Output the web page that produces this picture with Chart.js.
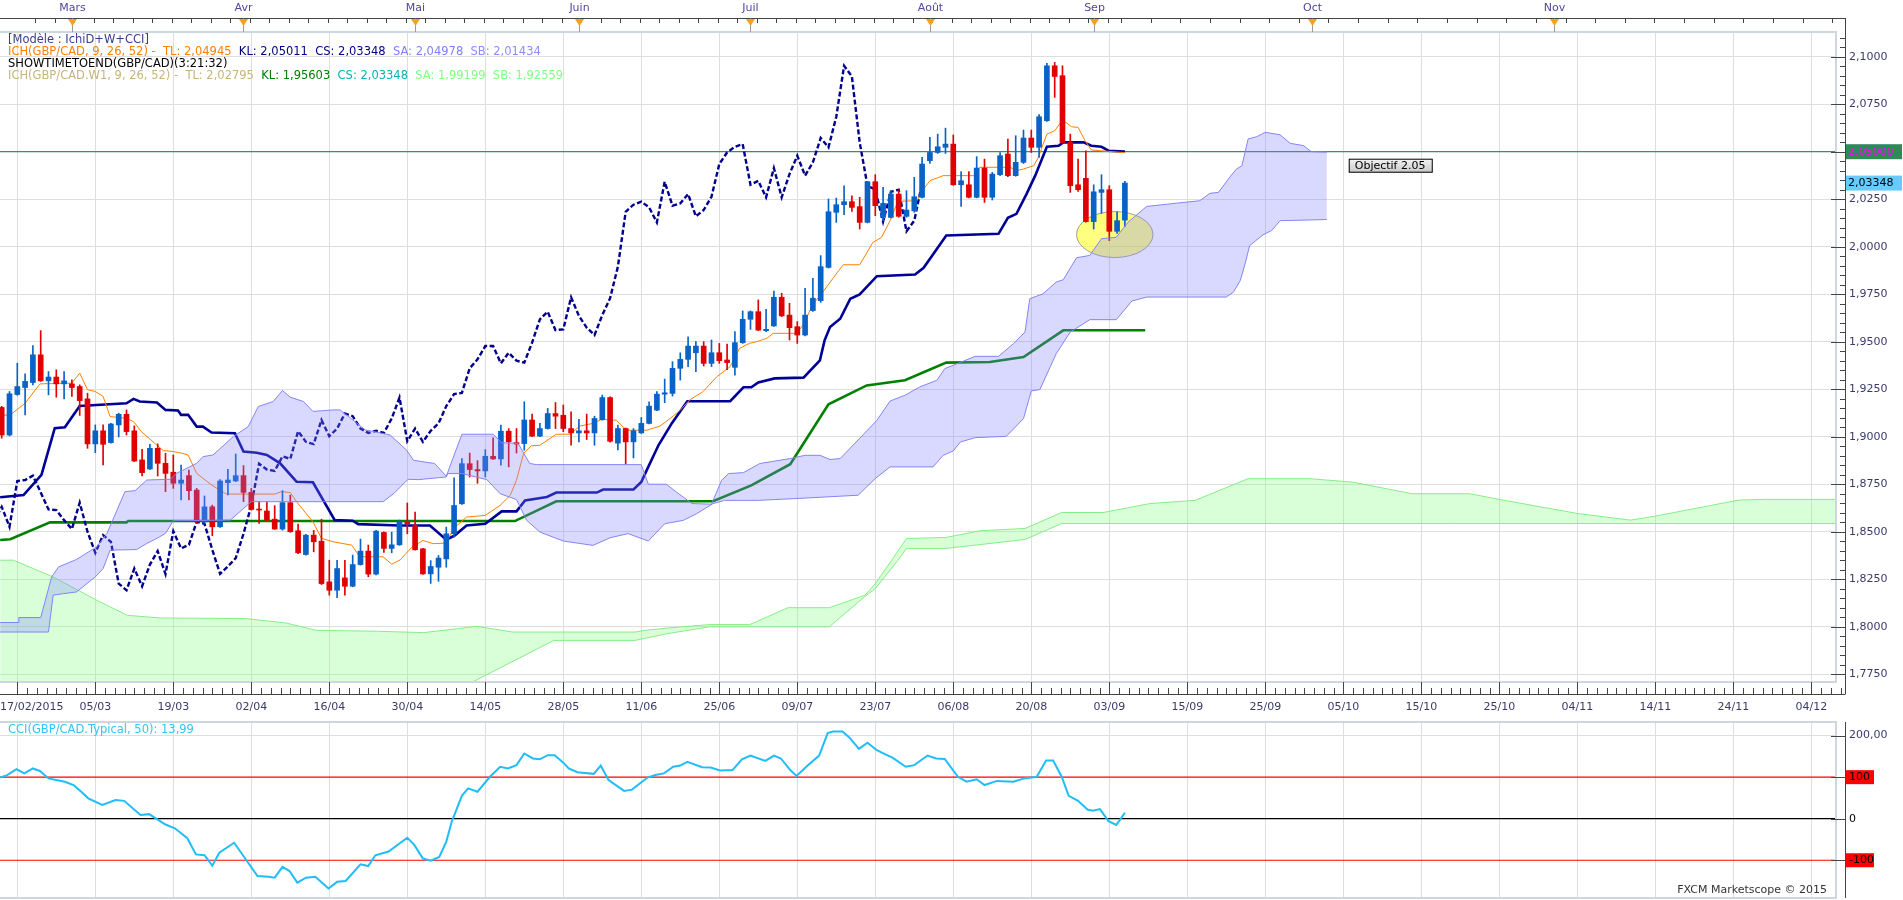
<!DOCTYPE html>
<html>
<head>
<meta charset="utf-8">
<title>GBP/CAD Ichimoku</title>
<script src="https://cdn.jsdelivr.net/npm/chart.js@4.4.1/dist/chart.umd.min.js"></script>
<style>
html, body { margin: 0; padding: 0; background: #fff; }
#wrap { position: relative; width: 1903px; height: 900px; overflow: hidden; }
#main { position: absolute; left: 0; top: 0; }
#cci { position: absolute; left: 0; top: 718px; }
</style>
</head>
<body>
<div id="wrap">
  <canvas id="main" width="1903" height="718"></canvas>
  <canvas id="cci" width="1903" height="182"></canvas>
</div>
<script>
// ---- data (bar index 0 = 17/02/2015 grid line) ----
const firstBar = -2;
const open = [
  1.9154,1.9009,1.9222,1.9259,1.9285,1.9431,1.9294,1.9314,1.9278,1.9278,
  1.9264,1.9199,1.8962,1.9031,1.8969,1.9062,1.9118,1.9031,1.8878,1.8830,
  1.8939,1.8860,1.8813,1.8755,1.8795,1.8719,1.8552,1.8631,1.8526,1.8758,
  1.8767,1.8795,1.8707,1.8619,1.8609,1.8566,1.8514,1.8653,1.8505,1.8380,
  1.8482,1.8450,1.8236,1.8192,1.8257,1.8213,1.8327,1.8398,1.8277,1.8496,
  1.8412,1.8431,1.8551,1.8533,1.8410,1.8278,1.8313,1.8357,1.8489,1.8647,
  1.8858,1.8827,1.8820,1.8897,1.8883,1.9029,1.8969,1.8964,1.9088,1.9003,
  1.9043,1.9122,1.9113,1.9043,1.9020,1.9031,1.9020,1.9090,1.9206,1.8966,
  1.9043,1.8973,1.9020,1.9070,1.9140,1.9224,1.9228,1.9360,1.9407,1.9442,
  1.9477,1.9386,1.9442,1.9404,1.9365,1.9495,1.9618,1.9658,1.9558,1.9583,
  1.9734,1.9640,1.9579,1.9535,1.9664,1.9716,1.9891,2.0181,2.0221,2.0237,
  2.0211,2.0128,2.0342,2.0154,2.0154,2.0277,2.0160,2.0189,2.0260,2.0453,
  2.0496,2.0523,2.0540,2.0326,2.0326,2.0260,2.0414,2.0260,2.0379,2.0488,
  2.0374,2.0444,2.0572,2.0523,2.0663,2.0952,2.0900,2.0549,2.0326,2.0360,
  2.0132,2.0286,2.0300,2.0081,2.0140
];
const high = [
  1.9160,1.9238,1.9387,1.9331,1.9479,1.9558,1.9343,1.9352,1.9343,1.9300,
  1.9273,1.9229,1.9062,1.9062,1.9071,1.9124,1.9141,1.9057,1.8934,1.8960,
  1.8962,1.8913,1.8904,1.8851,1.8825,1.8728,1.8688,1.8640,1.8775,1.8828,
  1.8909,1.8848,1.8728,1.8658,1.8658,1.8637,1.8716,1.8693,1.8540,1.8486,
  1.8507,1.8566,1.8350,1.8350,1.8350,1.8377,1.8461,1.8430,1.8507,1.8500,
  1.8498,1.8561,1.8651,1.8603,1.8413,1.8348,1.8375,1.8524,1.8783,1.8885,
  1.8914,1.8874,1.8932,1.8994,1.9061,1.9043,1.9043,1.9184,1.9119,1.9070,
  1.9149,1.9180,1.9167,1.9131,1.9092,1.9119,1.9108,1.9219,1.9210,1.9061,
  1.9046,1.9043,1.9101,1.9184,1.9237,1.9303,1.9395,1.9442,1.9526,1.9500,
  1.9500,1.9509,1.9491,1.9488,1.9553,1.9662,1.9662,1.9720,1.9671,1.9767,
  1.9755,1.9702,1.9606,1.9781,1.9834,1.9953,2.0251,2.0256,2.0321,2.0268,
  2.0260,2.0344,2.0379,2.0312,2.0295,2.0298,2.0295,2.0365,2.0470,2.0575,
  2.0593,2.0624,2.0588,2.0395,2.0395,2.0474,2.0461,2.0391,2.0496,2.0567,
  2.0584,2.0614,2.0614,2.0695,2.0965,2.0970,2.0952,2.0593,2.0461,2.0505,
  2.0326,2.0379,2.0321,2.0184,2.0344
];
const low = [
  1.8992,1.9004,1.9218,1.9115,1.9273,1.9291,1.9220,1.9208,1.9199,1.9212,
  1.9112,1.8939,1.8916,1.8851,1.8966,1.8999,1.9009,1.8869,1.8793,1.8828,
  1.8793,1.8711,1.8728,1.8667,1.8667,1.8544,1.8544,1.8479,1.8523,1.8693,
  1.8764,1.8658,1.8614,1.8544,1.8558,1.8512,1.8508,1.8497,1.8385,1.8377,
  1.8394,1.8222,1.8166,1.8153,1.8166,1.8210,1.8324,1.8263,1.8272,1.8391,
  1.8389,1.8428,1.8489,1.8403,1.8275,1.8228,1.8239,1.8313,1.8471,1.8644,
  1.8788,1.8755,1.8788,1.8880,1.8850,1.8841,1.8914,1.8929,1.9000,1.9000,
  1.9040,1.9043,1.9026,1.8955,1.8973,1.8985,1.8955,1.9087,1.8971,1.8931,
  1.8855,1.8888,1.9017,1.9067,1.9137,1.9179,1.9214,1.9298,1.9369,1.9342,
  1.9372,1.9369,1.9386,1.9353,1.9324,1.9491,1.9565,1.9558,1.9553,1.9580,
  1.9632,1.9509,1.9491,1.9530,1.9659,1.9707,1.9888,2.0128,2.0168,2.0186,
  2.0093,2.0125,2.0163,2.0137,2.0151,2.0155,2.0155,2.0181,2.0257,2.0438,
  2.0491,2.0491,2.0323,2.0212,2.0257,2.0257,2.0233,2.0246,2.0374,2.0368,
  2.0371,2.0438,2.0496,2.0470,2.0660,2.0786,2.0546,2.0286,2.0291,2.0129,
  2.0093,2.0175,2.0032,2.0070,2.0105
];
const close = [
  1.9009,1.9226,1.9264,1.9291,1.9431,1.9294,1.9314,1.9278,1.9294,1.9259,
  1.9190,1.8962,1.9031,1.8960,1.9067,1.9118,1.9027,1.8872,1.8811,1.8939,
  1.8860,1.8807,1.8755,1.8772,1.8716,1.8552,1.8631,1.8526,1.8767,1.8772,
  1.8795,1.8707,1.8617,1.8614,1.8561,1.8514,1.8653,1.8500,1.8389,1.8482,
  1.8447,1.8227,1.8192,1.8306,1.8213,1.8327,1.8398,1.8277,1.8503,1.8412,
  1.8431,1.8552,1.8542,1.8405,1.8278,1.8317,1.8361,1.8489,1.8638,1.8858,
  1.8827,1.8820,1.8897,1.8883,1.9029,1.8973,1.8961,1.9088,1.9003,1.9043,
  1.9122,1.9108,1.9043,1.9020,1.9031,1.9020,1.9096,1.9206,1.8976,1.9043,
  1.8973,1.9031,1.9070,1.9161,1.9224,1.9231,1.9360,1.9407,1.9477,1.9477,
  1.9386,1.9442,1.9400,1.9390,1.9495,1.9618,1.9658,1.9561,1.9565,1.9734,
  1.9636,1.9574,1.9535,1.9640,1.9729,1.9895,2.0184,2.0221,2.0237,2.0207,
  2.0128,2.0342,2.0216,2.0228,2.0277,2.0160,2.0193,2.0263,2.0435,2.0496,
  2.0526,2.0540,2.0326,2.0347,2.0260,2.0414,2.0260,2.0382,2.0479,2.0374,
  2.0444,2.0572,2.0523,2.0684,2.0952,2.0896,2.0549,2.0321,2.0300,2.0132,
  2.0289,2.0300,2.0081,2.0137,2.0335
];
const chikouShift = 26;

// [bar, price] break points of the indicator lines
const tenkanPts = [[-2.2,1.9111],[-0.9,1.9115],[1,1.9176],[2.9,1.9278],[7,1.9282],[8,1.9335],[9,1.9247],[10,1.9238],[11,1.9212],[11.9,1.9106],[14,1.9097],[14.9,1.9080],[15.9,1.9027],[17.6,1.8966],[18.7,1.8927],[20,1.8922],[21.1,1.8913],[21.9,1.8904],[23,1.8807],[24.9,1.8746],[26.8,1.8698],[33,1.8698],[33.9,1.8711],[35,1.8706],[35.8,1.8658],[37.9,1.8552],[39,1.8465],[40.5,1.8447],[42.9,1.8429],[43.9,1.8368],[46.9,1.8368],[48,1.8329],[49.1,1.8352],[50.5,1.8415],[52,1.8454],[53.3,1.8437],[55,1.8440],[55.9,1.8516],[57.6,1.8577],[60,1.8586],[61.9,1.8639],[63.2,1.8692],[64,1.8771],[64.9,1.8911],[65.9,1.8952],[67,1.8955],[69.1,1.9013],[70.9,1.9013],[72.1,1.9056],[73.8,1.9070],[74.9,1.9091],[76.8,1.9087],[78.1,1.9034],[80.7,1.9034],[82.4,1.9056],[83.7,1.9096],[85,1.9140],[86.2,1.9193],[87.9,1.9237],[89.7,1.9316],[91.4,1.9369],[92.6,1.9465],[93.9,1.9492],[94.8,1.9500],[96.1,1.9518],[96.9,1.9544],[99.9,1.9544],[100.8,1.9590],[102,1.9698],[103.1,1.9751],[105.3,1.9874],[105.9,1.9905],[108,1.9905],[109.7,2.0023],[110.8,2.0049],[111.9,2.0137],[112.9,2.0239],[115.3,2.0242],[116.2,2.0303],[117,2.0347],[118.7,2.0374],[122.6,2.0374],[123.4,2.0418],[127.3,2.0418],[128.1,2.0400],[129,2.0409],[130.3,2.0426],[130.9,2.0470],[132,2.0593],[133,2.0610],[134,2.0667],[135.2,2.0631],[136,2.0628],[136.9,2.0558],[137.7,2.0509],[142,2.0495]];
const kijunPts = [[-2.2,1.8681],[0.8,1.8693],[3.1,1.8799],[4.8,1.9045],[6.1,1.9050],[8,1.9162],[14,1.9176],[14.9,1.9199],[15.7,1.9185],[17.9,1.9180],[19,1.9141],[20.6,1.9138],[21,1.9115],[21.9,1.9115],[23,1.9053],[23.8,1.9053],[24.9,1.9022],[27.9,1.9018],[29,1.8922],[30.7,1.8916],[32,1.8904],[33.7,1.8860],[35.8,1.8763],[37.9,1.8760],[40.7,1.8561],[43,1.8558],[43.7,1.8540],[49,1.8533],[52.9,1.8533],[55,1.8458],[56.1,1.8481],[57.6,1.8533],[60,1.8542],[62.1,1.8607],[64,1.8607],[65.1,1.8665],[67.9,1.8683],[69.1,1.8706],[74.3,1.8706],[75.1,1.8722],[79,1.8722],[80,1.8762],[80.7,1.8824],[82.2,1.8955],[83.9,1.9070],[85.9,1.9187],[91.4,1.9187],[93.1,1.9260],[94.1,1.9260],[95,1.9286],[97.1,1.9307],[100.8,1.9311],[102.9,1.9402],[103.5,1.9507],[104.2,1.9577],[105.5,1.9621],[106.8,1.9726],[108,1.9749],[110.2,1.9845],[115.1,1.9854],[116.2,1.9889],[119.1,2.0059],[125.8,2.0068],[127,2.0152],[128.1,2.0173],[129.4,2.0278],[130.5,2.0374],[132,2.0526],[133.5,2.0531],[134.1,2.0549],[136.7,2.0549],[137.7,2.0531],[139,2.0526],[139.9,2.0505],[142,2.0501]];
const cloudUpPts = [[-2.2,1.8022],[0.1,1.8022],[0.2,1.8048],[3,1.8048],[4.4,1.8262],[5.3,1.8315],[7.6,1.8354],[10.2,1.8421],[11.5,1.8491],[13.8,1.8711],[15.1,1.8716],[16.6,1.8772],[19.6,1.8776],[20.4,1.8807],[23,1.8860],[23.8,1.8895],[25.1,1.8904],[27.7,1.9001],[29.6,1.9053],[30.9,1.9159],[32.8,1.9185],[34,1.9243],[35,1.9208],[36.7,1.9185],[37.9,1.9133],[40.5,1.9141],[41.4,1.9141],[42.2,1.9115],[44.6,1.9036],[47.8,1.9009],[49.9,1.8930],[50.8,1.8876],[53.5,1.8859],[55,1.8792],[57,1.9013],[61,1.9013],[62.1,1.8968],[64.2,1.8965],[65.7,1.8859],[66.6,1.8853],[80,1.8853],[80.9,1.8750],[83.2,1.8750],[84.5,1.8709],[86.5,1.8648],[89,1.8645],[90.3,1.8771],[91.2,1.8806],[93.1,1.8811],[95.2,1.8859],[99.1,1.8885],[101,1.8902],[102.9,1.8902],[104.2,1.8880],[105.5,1.8885],[108.5,1.9013],[110.2,1.9086],[111.9,1.9188],[113.8,1.9218],[115.7,1.9262],[117.9,1.9297],[118.9,1.9358],[120,1.9376],[122.8,1.9423],[125.8,1.9423],[127.7,1.9489],[129.2,1.9551],[129.8,1.9726],[131.5,1.9752],[133.2,1.9814],[134.1,1.9826],[135.8,1.9942],[137.5,1.9954],[139,2.0042],[140.9,2.0050],[142.4,2.0129],[144.8,2.0212],[148.6,2.0229],[151.6,2.0242],[152.9,2.0281],[154,2.0286],[155.5,2.0369],[156.3,2.0409],[157,2.0426],[157.4,2.0496],[157.8,2.0567],[158.9,2.0579],[160,2.0602],[161.9,2.0589],[163.2,2.0544],[164.9,2.0532],[165.9,2.0500],[167.9,2.0498]];
const cloudLoPts = [[-2.2,1.7972],[4,1.7972],[4.6,1.8166],[5.9,1.8174],[7.6,1.8183],[10,1.8262],[11,1.8306],[11.9,1.8403],[15.3,1.8406],[16.6,1.8438],[17.9,1.8465],[19,1.8491],[20,1.8558],[27.3,1.8561],[30,1.8658],[46.9,1.8658],[48.3,1.8702],[50.1,1.8776],[51.4,1.8774],[55,1.8788],[55.2,1.8806],[57,1.8806],[60.2,1.8774],[61.9,1.8700],[64,1.8669],[65.3,1.8560],[67,1.8498],[70,1.8451],[73.8,1.8428],[76,1.8468],[78.3,1.8490],[80.9,1.8451],[83,1.8542],[85.4,1.8560],[87.1,1.8595],[89.2,1.8648],[90.7,1.8665],[95,1.8665],[100.1,1.8675],[107.8,1.8692],[110,1.8780],[111.9,1.8841],[117.4,1.8841],[118.7,1.8902],[120,1.8925],[120.9,1.8972],[122.8,1.8995],[126.8,1.9002],[129,1.9095],[130,1.9241],[131.1,1.9248],[133.2,1.9437],[135,1.9551],[137.5,1.9616],[140.9,1.9616],[142.9,1.9714],[144.8,1.9735],[155,1.9735],[155.9,1.9760],[156.8,1.9822],[157.4,1.9909],[158,2.0006],[159.7,2.0062],[160.8,2.0085],[161.9,2.0137],[167.9,2.0143]];
const weeklyKijunPts = [[-2.2,1.8456],[-0.9,1.8460],[4.2,1.8549],[14,1.8549],[14.2,1.8556],[63.8,1.8556],[69.1,1.8660],[89.2,1.8660],[94.1,1.8744],[99.1,1.8855],[104,1.9171],[108.9,1.9270],[113.8,1.9297],[119.1,1.9390],[124.7,1.9393],[129,1.9419],[134.1,1.9560],[144.6,1.9560]];
const weeklyUpPts = [[-2.2,1.8350],[-0.5,1.8350],[4.6,1.8262],[10.2,1.8139],[14.1,1.8060],[18.3,1.8046],[29.2,1.8043],[34.4,1.8020],[38.3,1.7981],[46.2,1.7976],[52.1,1.7969],[54.7,1.7981],[58.9,1.8002],[63.5,1.7972],[79.2,1.7972],[80.5,1.7981],[83.4,1.7993],[88.7,1.8011],[93.9,1.8011],[98.8,1.8100],[104.1,1.8100],[108.7,1.8166],[110,1.8227],[112.1,1.8350],[114,1.8464],[119.1,1.8470],[123.4,1.8505],[129.2,1.8517],[133.9,1.8601],[139.2,1.8601],[145.2,1.8648],[151,1.8665],[157.8,1.8779],[165.7,1.8779],[171.2,1.8761],[178.8,1.8700],[186.2,1.8700],[190,1.8670],[200,1.8596],[206.8,1.8561],[210,1.8582],[220,1.8661],[221,1.8667],[224.3,1.8670],[233.5,1.8670]];
const weeklyLoPts = [[-2.2,1.7500],[48.4,1.7500],[68.8,1.7928],[79.2,1.7928],[83.4,1.7964],[88.7,1.7999],[104.1,1.7999],[108.7,1.8160],[110,1.8200],[112.9,1.8350],[114,1.8412],[119.1,1.8412],[129.2,1.8459],[133.9,1.8543],[233.5,1.8543]];
const cciPts = [[-2.2,99],[-1.3,105],[-0.1,119],[0.9,109],[2,121],[2.9,115],[4,97],[6.1,89],[7.2,81],[8.2,65],[9.1,49],[10.9,33],[12.6,45],[13.7,43],[15.8,9],[16.9,11],[19,-14],[20.2,-23],[21.8,-47],[22.9,-86],[24,-88],[25,-113],[25.9,-82],[27.8,-58],[30.8,-138],[32.2,-140],[33,-142],[34,-116],[34.9,-126],[35.9,-154],[37,-142],[38.2,-140],[39.9,-168],[41,-152],[42.1,-150],[44,-110],[45,-114],[45.9,-88],[47.6,-79],[50,-46],[50.9,-63],[52,-96],[53,-101],[54.1,-92],[55,-55],[55.7,-7],[57,55],[57.8,73],[59,65],[60.6,101],[61.9,125],[62.9,121],[64,129],[65,157],[66.1,145],[67,143],[68,153],[68.9,153],[70,135],[70.7,121],[71.8,112],[73.9,108],[74.8,128],[75.8,93],[77.8,67],[78.8,70],[80.8,99],[81.8,105],[82.9,109],[84.1,125],[85,128],[85.9,137],[87.8,124],[88.9,123],[90.1,116],[91.7,117],[92.9,143],[94,152],[95.9,139],[97,152],[97.9,145],[99.1,117],[99.9,103],[101.4,129],[102.8,152],[103.9,206],[104.6,210],[105.8,210],[106.7,195],[107.9,168],[109,183],[110.2,165],[111.3,155],[112.2,147],[113.9,125],[115,129],[116.7,152],[117.8,145],[118.9,144],[120.6,101],[121.7,89],[123,95],[124,81],[125.6,91],[127.7,89],[129.1,97],[130.7,101],[131.9,140],[132.8,140],[133.9,101],[134.8,55],[136,43],[137.2,22],[137.9,19],[138.8,23],[139.9,-6],[140.9,-15],[142,14]];
const cciLevels = [100, 0, -100];
const objectif = 2.05;
const lastClose = 2.03348;

// axis labels
const dateTicks = [0,10,20,30,40,50,60,70,80,90,100,110,120,130,140,150,160,170,180,190,200,210,220,230];
const dateLabels = ['17/02/2015','05/03','19/03','02/04','16/04','30/04','14/05','28/05','11/06','25/06','09/07','23/07','06/08','20/08','03/09','15/09','25/09','05/10','15/10','25/10','04/11','14/11','24/11','04/12'];
const monthPos = [7, 29, 51, 72, 94, 117, 138, 166, 197];
const monthNames = ['Mars','Avr','Mai','Juin','Juil','Août','Sep','Oct','Nov'];
const priceTicks = [2.1, 2.075, 2.05, 2.025, 2.0, 1.975, 1.95, 1.925, 1.9, 1.875, 1.85, 1.825, 1.8, 1.775];
const cciTicks = [200];

// ---- view ----
const xMin = -2.218, xMax = 233.17;
const F = '11px "DejaVu Sans"';
const FL = '11.5px "DejaVu Sans"';
const UP = '#0a62c6', DOWN = '#e00000';
const GRID = '#dedede';
const FRAME = '#cfd6df';
const LABEL = '#3a3a6a';
const zone = { x: 140.7, y: 2.0064, rx: 4.9, ry: 0.0121 };

const bars = open.map((_, k) => firstBar + k);
const pts = a => a.map(([x, y]) => ({ x, y }));
const candleColor = ctx => close[ctx.dataIndex] >= open[ctx.dataIndex] ? UP : DOWN;
const fmtPrice = p => p.toFixed(4).replace('.', ',');

function text(ctx, s, x, y, color, align, font) {
  ctx.font = font || F;
  ctx.fillStyle = color;
  ctx.textAlign = align || 'left';
  ctx.textBaseline = 'middle';
  ctx.fillText(s, x, y);
}
function hline(ctx, x1, x2, y, color, w) {
  ctx.strokeStyle = color; ctx.lineWidth = w || 1;
  ctx.beginPath(); ctx.moveTo(x1, y); ctx.lineTo(x2, y); ctx.stroke();
}
function vline(ctx, x, y1, y2, color, w) {
  ctx.strokeStyle = color; ctx.lineWidth = w || 1;
  ctx.beginPath(); ctx.moveTo(x, y1); ctx.lineTo(x, y2); ctx.stroke();
}

const xScale = {
  type: 'linear', min: xMin, max: xMax, offset: false,
  afterBuildTicks: s => { s.ticks = dateTicks.map(v => ({ value: v })); },
  afterFit: s => { s.height = 0; },
  ticks: { display: false },
  grid: { color: GRID, drawTicks: false, offset: false },
  border: { display: false }
};

const legendLines = [
  [['[Modèle : IchiD+W+CCI]', '#3c3c8c']],
  [['ICH(GBP/CAD, 9, 26, 52) -  TL: 2,04945', '#ff8000'], ['KL: 2,05011', '#000080'], ['CS: 2,03348', '#000080'], ['SA: 2,04978', '#8080ff'], ['SB: 2,01434', '#8c8cff']],
  [['SHOWTIMETOEND(GBP/CAD)(3:21:32)', '#000000']],
  [['ICH(GBP/CAD.W1, 9, 26, 52) -  TL: 2,02795', '#c8b478'], ['KL: 1,95603', '#008000'], ['CS: 2,03348', '#00b4b4'], ['SA: 1,99199', '#80ff80'], ['SB: 1,92559', '#80ff80']]
];

const mainDeco = {
  id: 'mainDeco',
  beforeDatasetsDraw(chart) {
    const { ctx, scales: { x, y } } = chart;
    const cx = x.getPixelForValue(zone.x), cy = y.getPixelForValue(zone.y);
    const rx = x.getPixelForValue(zone.x + zone.rx) - cx;
    const ry = cy - y.getPixelForValue(zone.y + zone.ry);
    ctx.save();
    ctx.beginPath();
    ctx.ellipse(cx, cy, rx, ry, 0, 0, Math.PI * 2);
    ctx.fillStyle = 'rgba(255,255,0,0.5)';
    ctx.fill();
    ctx.strokeStyle = 'rgba(150,150,150,0.9)';
    ctx.lineWidth = 1;
    ctx.stroke();
    ctx.restore();
  },
  afterDraw(chart) {
    const { ctx, chartArea: a, scales: { x, y } } = chart;
    const axisX = 1845.5;
    ctx.save();

    // frame
    ctx.strokeStyle = FRAME; ctx.lineWidth = 2;
    ctx.beginPath();
    ctx.moveTo(a.left, a.top); ctx.lineTo(a.right, a.top); ctx.lineTo(a.right, a.bottom); ctx.lineTo(a.left, a.bottom);
    ctx.stroke();

    // top ruler with months
    hline(ctx, 0, axisX, 18.5, '#444');
    for (let v = 2.3; v < 140; v += 2.5) {
      const px = Math.round(x.getPixelForValue(v)) + 0.5;
      vline(ctx, px, 18.5, 23, '#444');
    }
    for (let v = 141.5; v < xMax; v += 3.8) {
      const px = Math.round(x.getPixelForValue(v)) + 0.5;
      vline(ctx, px, 18.5, 23, '#444');
    }
    monthPos.forEach((m, k) => {
      const px = Math.round(x.getPixelForValue(m)) + 0.5;
      vline(ctx, px, 18.5, a.top, '#999');
      ctx.fillStyle = '#f7a21b';
      ctx.beginPath(); ctx.moveTo(px - 4.5, 19); ctx.lineTo(px + 4.5, 19); ctx.lineTo(px, 26); ctx.closePath(); ctx.fill();
      text(ctx, monthNames[k], px, 8.5, '#55459a', 'center');
    });

    // legend lines
    legendLines.forEach((line, r) => {
      let px = 8;
      const py = 40 + r * 12;
      line.forEach(([s, c]) => {
        text(ctx, s, px, py, c, 'left', FL);
        ctx.font = FL;
        px += ctx.measureText(s + '  ').width;
      });
    });

    // right price ruler
    vline(ctx, axisX, 18, 694, '#444');
    for (let m = 1770; m <= 2115; m += 5) {
      const py = y.getPixelForValue(m / 1000);
      if (py < a.top || py > a.bottom) continue;
      const yy = Math.round(py) + 0.5;
      hline(ctx, m % 25 === 0 ? 1831 : 1840, axisX, yy, '#444');
    }
    priceTicks.forEach(p => text(ctx, fmtPrice(p), 1849, y.getPixelForValue(p), LABEL));

    // level boxes
    const yObj = y.getPixelForValue(objectif);
    ctx.fillStyle = '#2e8b57'; ctx.fillRect(1846, yObj - 7.5, 56, 15);
    text(ctx, objectif.toFixed(5).replace('.', ','), 1848, yObj, '#ff00ff');
    const yLast = y.getPixelForValue(lastClose);
    ctx.fillStyle = '#66ccff'; ctx.fillRect(1846, yLast - 7.5, 56, 15);
    text(ctx, lastClose.toFixed(5).replace('.', ','), 1848, yLast, '#000');

    // bottom date ruler
    hline(ctx, 0, axisX, 694.5, '#444');
    dateTicks.forEach(v => {
      const px = Math.round(x.getPixelForValue(v)) + 0.5;
      vline(ctx, px, a.bottom, 694.5, '#444');
      for (let s = 1; s < 8; s++) {
        const qx = Math.round(x.getPixelForValue(v + s * 1.25)) + 0.5;
        if (qx < axisX) vline(ctx, qx, 688, 694.5, '#444');
      }
    });
    ctx.font = F;
    dateTicks.forEach((v, k) => {
      const px = x.getPixelForValue(v);
      const w = ctx.measureText(dateLabels[k]).width;
      text(ctx, dateLabels[k], Math.max(px - w / 2, 0), 707, LABEL, 'left');
    });

    // "Objectif" tag
    const tx = x.getPixelForValue(170.7), ty = yObj + 7;
    const g = ctx.createLinearGradient(0, ty, 0, ty + 14);
    g.addColorStop(0, '#f4f4f4'); g.addColorStop(1, '#c8c8c8');
    ctx.fillStyle = g; ctx.fillRect(tx, ty, 84, 14);
    ctx.strokeStyle = '#000'; ctx.lineWidth = 1; ctx.strokeRect(tx + 0.5, ty + 0.5, 83, 13);
    text(ctx, 'Objectif 2.05', tx + 6, ty + 7.5, '#000');

    ctx.restore();
  }
};

new Chart(document.getElementById('main'), {
  type: 'line',
  data: {
    datasets: [
      { label: 'W SA', data: pts(weeklyUpPts), borderColor: '#86ee86', borderWidth: 1, order: 10 },
      { label: 'W SB', data: pts(weeklyLoPts), borderColor: '#86ee86', borderWidth: 1, fill: '-1', backgroundColor: 'rgba(128,255,128,0.3)', order: 11 },
      { label: 'W KL', data: pts(weeklyKijunPts), borderColor: '#008000', borderWidth: 2.6, order: 9 },
      { label: 'Objectif', data: [{ x: xMin, y: objectif }, { x: xMax, y: objectif }], borderColor: '#3c8c64', borderWidth: 1.2, order: 8 },
      { label: 'CS', data: close.map((c, k) => ({ x: firstBar + k - chikouShift, y: c })), borderColor: '#00008c', borderWidth: 2.4, borderDash: [5, 2.5], order: 7 },
      { label: 'KL', data: pts(kijunPts), borderColor: '#000096', borderWidth: 2.6, order: 6 },
      { label: 'TL', data: pts(tenkanPts), borderColor: '#ff8000', borderWidth: 1, order: 5 },
      { type: 'bar', label: 'wick', data: bars.map((b, k) => ({ x: b, y: [low[k], high[k]] })), backgroundColor: candleColor, barThickness: 1, grouped: false, order: 4 },
      { type: 'bar', label: 'body', data: bars.map((b, k) => ({ x: b, y: [open[k], close[k]] })), backgroundColor: candleColor, barThickness: 5, minBarLength: 1, grouped: false, order: 3 },
      { label: 'SA', data: pts(cloudUpPts), borderColor: '#8484f4', borderWidth: 1, order: 1 },
      { label: 'SB', data: pts(cloudLoPts), borderColor: '#8484f4', borderWidth: 1, fill: '-1', backgroundColor: 'rgba(128,128,255,0.3)', order: 2 }
    ]
  },
  options: {
    responsive: false, animation: false, devicePixelRatio: 1, events: [],
    layout: { padding: { top: 32, left: 0, right: 67, bottom: 36 } },
    elements: { point: { radius: 0 }, line: { tension: 0 } },
    plugins: { legend: { display: false }, tooltip: { enabled: false } },
    scales: {
      x: xScale,
      y: {
        type: 'linear', position: 'right', min: 1.7709, max: 2.1130,
        afterBuildTicks: s => { s.ticks = priceTicks.map(v => ({ value: v })); },
        afterFit: s => { s.width = 0; },
        ticks: { display: false },
        grid: { color: GRID, drawTicks: false },
        border: { display: false }
      }
    }
  },
  plugins: [mainDeco]
});

const cciDeco = {
  id: 'cciDeco',
  afterDraw(chart) {
    const { ctx, chartArea: a, scales: { y } } = chart;
    const axisX = 1845.5;
    ctx.save();
    ctx.strokeStyle = FRAME; ctx.lineWidth = 2;
    ctx.beginPath();
    ctx.moveTo(a.left, a.top); ctx.lineTo(a.right, a.top); ctx.lineTo(a.right, a.bottom); ctx.lineTo(a.left, a.bottom);
    ctx.stroke();
    vline(ctx, axisX, a.top, a.bottom, '#444');
    [200, 100, 0, -100].forEach(v => hline(ctx, 1831, axisX, Math.round(y.getPixelForValue(v)) + 0.5, '#444'));
    text(ctx, '200,00', 1849, y.getPixelForValue(200), LABEL);
    [[100, '100'], [-100, '-100']].forEach(([v, s]) => {
      const py = y.getPixelForValue(v);
      ctx.fillStyle = '#ff0000'; ctx.fillRect(1846, py - 7, 28, 14);
      text(ctx, s, 1849, py, '#000');
    });
    text(ctx, '0', 1849, y.getPixelForValue(0), '#000');
    text(ctx, 'CCI(GBP/CAD.Typical, 50): 13,99', 8, 12, '#33c4f8', 'left', FL);
    text(ctx, 'FXCM Marketscope © 2015', 1827, 172, '#333', 'right');
    ctx.restore();
  }
};

new Chart(document.getElementById('cci'), {
  type: 'line',
  data: {
    datasets: [
      { label: 'CCI', data: pts(cciPts), borderColor: '#20bdf8', borderWidth: 2, order: 1 },
      ...cciLevels.map(l => ({
        label: 'L' + l, data: [{ x: xMin, y: l }, { x: xMax, y: l }],
        borderColor: l === 0 ? '#000000' : '#ff0000', borderWidth: 1.2, order: 2
      }))
    ]
  },
  options: {
    responsive: false, animation: false, devicePixelRatio: 1, events: [],
    layout: { padding: { top: 4, left: 0, right: 67, bottom: 2 } },
    elements: { point: { radius: 0 }, line: { tension: 0 } },
    plugins: { legend: { display: false }, tooltip: { enabled: false } },
    scales: {
      x: xScale,
      y: {
        type: 'linear', position: 'right', min: -190.9, max: 232.8,
        afterBuildTicks: s => { s.ticks = cciTicks.map(v => ({ value: v })); },
        afterFit: s => { s.width = 0; },
        ticks: { display: false },
        grid: { color: GRID, drawTicks: false },
        border: { display: false }
      }
    }
  },
  plugins: [cciDeco]
});
</script>
</body>
</html>
